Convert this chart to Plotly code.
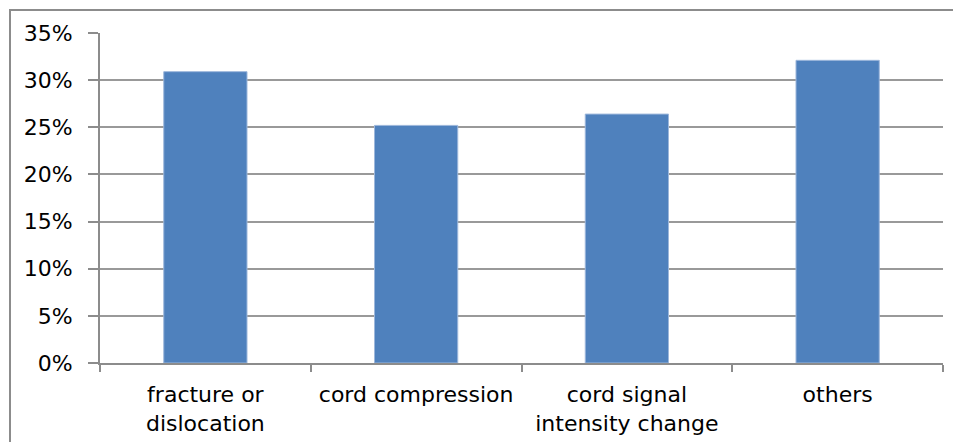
import plotly.graph_objects as go

categories = ["fracture or<br>dislocation", "cord compression", "cord signal<br>intensity change", "others"]
values = [0.309, 0.252, 0.264, 0.321]
y_ticks = [0, 0.05, 0.10, 0.15, 0.20, 0.25, 0.30, 0.35]
y_tick_labels = ["0%", "5%", "10%", "15%", "20%", "25%", "30%", "35%"]

# page body has an 8px margin; figure sized to fit the window
OFF = 8
W, H = 961 - OFF, 442 - OFF
L, T = 100 - OFF, 33 - OFF
pw, ph = 843, 330
R = W - L - pw
B = H - T - ph

fig = go.Figure(go.Bar(
    x=categories, y=values,
    marker=dict(color="#4F81BD", line=dict(color="#9DB7DB", width=1)),
    width=0.395,
))

grey = "#8C8C8C"
fig.update_layout(
    width=W, height=H,
    margin=dict(l=L, r=R, t=T, b=B, autoexpand=False),
    paper_bgcolor="white", plot_bgcolor="white",
    showlegend=False,
    font=dict(family="DejaVu Sans, sans-serif", size=22, color="black"),
    xaxis=dict(
        showline=True, linecolor=grey, linewidth=2,
        ticks="outside", ticklen=7, tickcolor=grey, tickwidth=2,
        tickson="boundaries", showgrid=False,
        ticklabelstandoff=11, automargin=False,
    ),
    yaxis=dict(
        range=[0, 0.35], tickvals=y_ticks, ticktext=y_tick_labels,
        showline=True, linecolor=grey, linewidth=2,
        ticks="outside", ticklen=10, tickcolor=grey, tickwidth=2,
        showgrid=True, gridcolor="#999999", gridwidth=2,
        zeroline=False, ticklabelstandoff=11, automargin=False,
    ),
    shapes=[dict(
        type="rect", xref="paper", yref="paper",
        x0=(10 - 100) / pw, x1=(975 - 100) / pw,
        y0=(363 - 460) / ph, y1=(363 - 10) / ph,
        line=dict(color="#8C8C8C", width=2), fillcolor="rgba(0,0,0,0)", layer="below",
    )],
)

fig.write_html("out.html")
